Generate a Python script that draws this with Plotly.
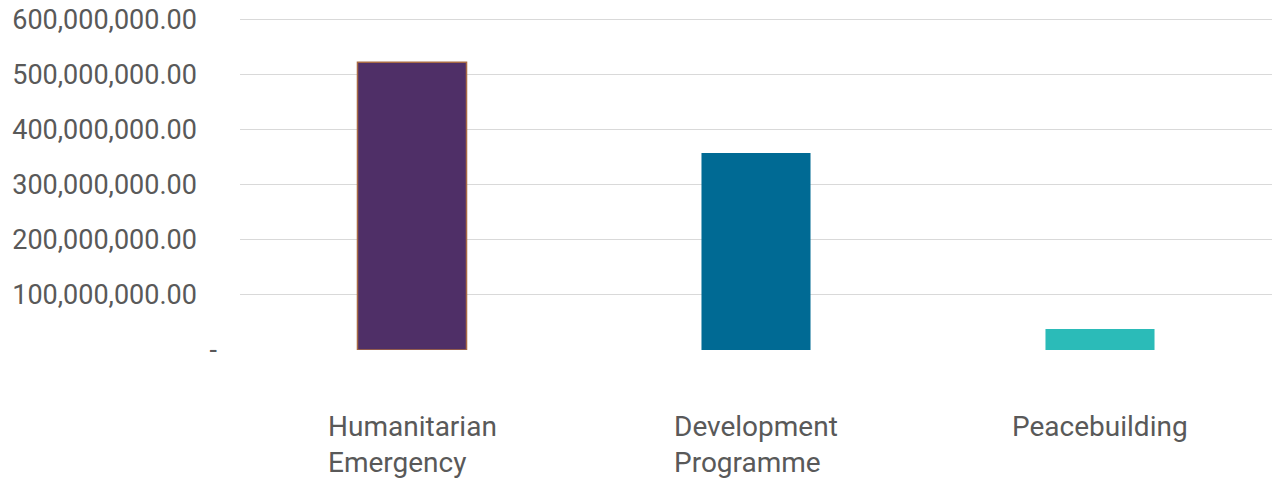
import plotly.graph_objects as go

categories = ["Humanitarian<br>Emergency", "Development<br>Programme", "Peacebuilding"]
values = [523_000_000, 358_000_000, 38_000_000]
bar_colors = ["#4f2f67", "#006a94", "#2bbbb8"]
outline_colors = ["#a86a45", "rgba(0,0,0,0)", "rgba(0,0,0,0)"]
tick_values = [0, 100_000_000, 200_000_000, 300_000_000, 400_000_000, 500_000_000, 600_000_000]
tick_labels = ["-"] + [f"{v:,.2f}" + "\u00a0\u00a0\u00a0" for v in tick_values[1:]]

font_family = "Roboto, 'DejaVu Sans', sans-serif"
text_color = "#595959"

fig = go.Figure(go.Bar(
    x=categories, y=values,
    marker=dict(color=bar_colors, line=dict(color=outline_colors, width=1.5)),
    width=0.317,
))

for c in categories:
    fig.add_annotation(x=c, xref="x", y=0, yref="paper", yanchor="top",
                       yshift=-58, text=c, showarrow=False, align="left",
                       font=dict(family=font_family, size=28, color=text_color))

fig.update_layout(
    width=1281, height=480,
    margin=dict(l=240, r=9, t=17.25, b=130, autoexpand=False),
    plot_bgcolor="white", paper_bgcolor="white",
    showlegend=False,
    font=dict(family=font_family, size=27, color=text_color),
    xaxis=dict(showticklabels=False, showgrid=False, zeroline=False, showline=False,
               automargin=False),
    yaxis=dict(range=[0, 605_000_000], tickvals=tick_values, ticktext=tick_labels,
               showgrid=True, gridcolor="#d9d9d9", gridwidth=1, zeroline=False,
               showline=False, ticks="", ticklabelstandoff=22, automargin=False),
)

fig.write_html("out.html")
